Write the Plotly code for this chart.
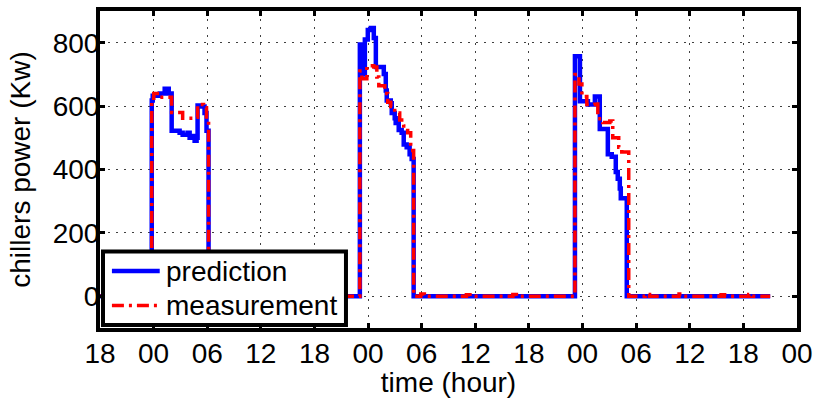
import plotly.graph_objects as go

# Time axis in hours, counted from 18:00 on the first day
tick_hours = list(range(0, 79, 6))
tick_labels = ["18", "00", "06", "12", "18", "00", "06", "12",
               "18", "00", "06", "12", "18", "00"]
power_ticks = [0, 200, 400, 600, 800]

# Predicted chiller power (kW), step values starting at each time
pred_t = [0, 5.79, 5.9, 6.69, 7.24, 7.69, 8.02, 8.91, 9.25, 9.8, 10.03, 10.25,
          10.59, 10.81, 10.92, 11.37, 11.7, 11.92, 12.15,
          29.08, 29.31, 29.64, 29.97, 30.31, 30.64, 30.87, 31.76, 31.98, 32.09,
          32.54, 32.65, 32.98, 33.09, 33.2, 33.43, 33.76, 33.99, 34.32, 34.65,
          34.88, 35.1,
          53.15, 53.71, 54.6, 55.38, 55.93, 56.83, 57.27, 57.72, 57.94, 58.17,
          58.28, 58.95, 75.0]
pred_kw = [0, 618, 633, 640, 655, 640, 522, 516, 510, 516, 500, 506,
           491, 500, 602, 599, 578, 522, 0,
           794, 700, 810, 840, 846, 815, 723, 701, 649, 618,
           609, 578, 562, 547, 556, 525, 516, 479, 470, 448,
           433, 0,
           757, 615, 605, 630, 528, 448, 440, 392, 371, 340,
           309, 0, 0]

# Measured chiller power (kW)
meas_t = [0, 5.79, 6.02, 6.69, 8.02, 9.25, 10.59, 10.92, 11.59, 11.92, 12.15,
          29.08, 29.31, 29.86, 30.64, 30.98, 31.2, 31.87, 32.2, 32.54, 32.98,
          33.54, 33.99, 34.43, 34.77, 35.1, 35.9, 36.3, 41.0, 41.4, 46.2, 46.6,
          53.15, 53.6, 53.93, 54.48, 55.38, 55.71, 56.27, 57.05, 57.38, 58.05,
          58.39, 59.17, 61.0, 61.5, 64.8, 65.3, 69.5, 69.9, 72.6, 73.0, 75.0]
meas_kw = [0, 625, 640, 628, 580, 562, 565, 605, 595, 560, 0,
           711, 686, 727, 723, 692, 664, 640, 612, 599, 578,
           556, 537, 516, 460, 0, 7, 0, 5, 0, 6, 0,
           700, 670, 630, 605, 615, 560, 548, 553, 500, 470,
           455, 0, 6, 0, 7, 0, 5, 0, 6, 0, 0]

series_names = ["prediction", "measurement"]
font_family = "Liberation Sans, Arial, sans-serif"

pred_line = dict(color="#0000ff", width=4.5)
meas_line = dict(color="#ff0000", width=3.5, dash="12px,5px,3px,5px")

fig = go.Figure()
fig.add_trace(go.Scatter(
    x=pred_t, y=pred_kw, name=series_names[0], mode="lines",
    line=dict(shape="hv", **pred_line),
))
fig.add_trace(go.Scatter(
    x=meas_t, y=meas_kw, name=series_names[1], mode="lines",
    line=dict(shape="hv", **meas_line),
))

axis_common = dict(
    showline=True, linecolor="black", linewidth=4, mirror="ticks",
    ticks="inside", ticklen=5, tickwidth=3, tickcolor="black",
    showgrid=True, gridcolor="rgba(0,0,0,0.75)", gridwidth=1,
    griddash="2px,6px", zeroline=False,
    tickfont=dict(family=font_family, size=28, color="black"),
    title_font=dict(family=font_family, size=28, color="black"),
)

fig.update_xaxes(
    range=[0, 78], tickmode="array", tickvals=tick_hours, ticktext=tick_labels,
    ticklabelstandoff=-3,
    title_text="time (hour)", title_standoff=3, **axis_common,
)
fig.update_yaxes(
    range=[-100, 900], tickmode="array", tickvals=power_ticks,
    ticklabelstandoff=-9,
    title_text="chillers power (Kw)", title_standoff=15, **axis_common,
)

# Legend box in the lower-left corner of the axes (axes-domain coordinates)
box = dict(x0=0.0043, x1=0.3529, y0=0.0093, y1=0.2415)
rows_y = [0.1796, 0.0712]
sample_x = (0.0171, 0.0857)
text_x = 0.0915

shapes = [dict(
    type="rect", xref="x domain", yref="y domain", layer="above",
    fillcolor="white", line=dict(color="black", width=4), **box,
)]
for y, style in zip(rows_y, [pred_line, meas_line]):
    shapes.append(dict(
        type="line", xref="x domain", yref="y domain", layer="above",
        x0=sample_x[0], x1=sample_x[1], y0=y, y1=y, line=style,
    ))

annotations = [
    dict(text=name, xref="x domain", yref="y domain", x=text_x, y=y,
         xanchor="left", yanchor="middle", showarrow=False,
         font=dict(family=font_family, size=28, color="black"))
    for name, y in zip(series_names, rows_y)
]

fig.update_layout(
    width=820, height=398,
    margin=dict(l=100, r=20, t=7, b=68),
    paper_bgcolor="white", plot_bgcolor="white",
    font=dict(family=font_family, size=28, color="black"),
    showlegend=False,
    shapes=shapes, annotations=annotations,
)

fig.write_html("out.html")
